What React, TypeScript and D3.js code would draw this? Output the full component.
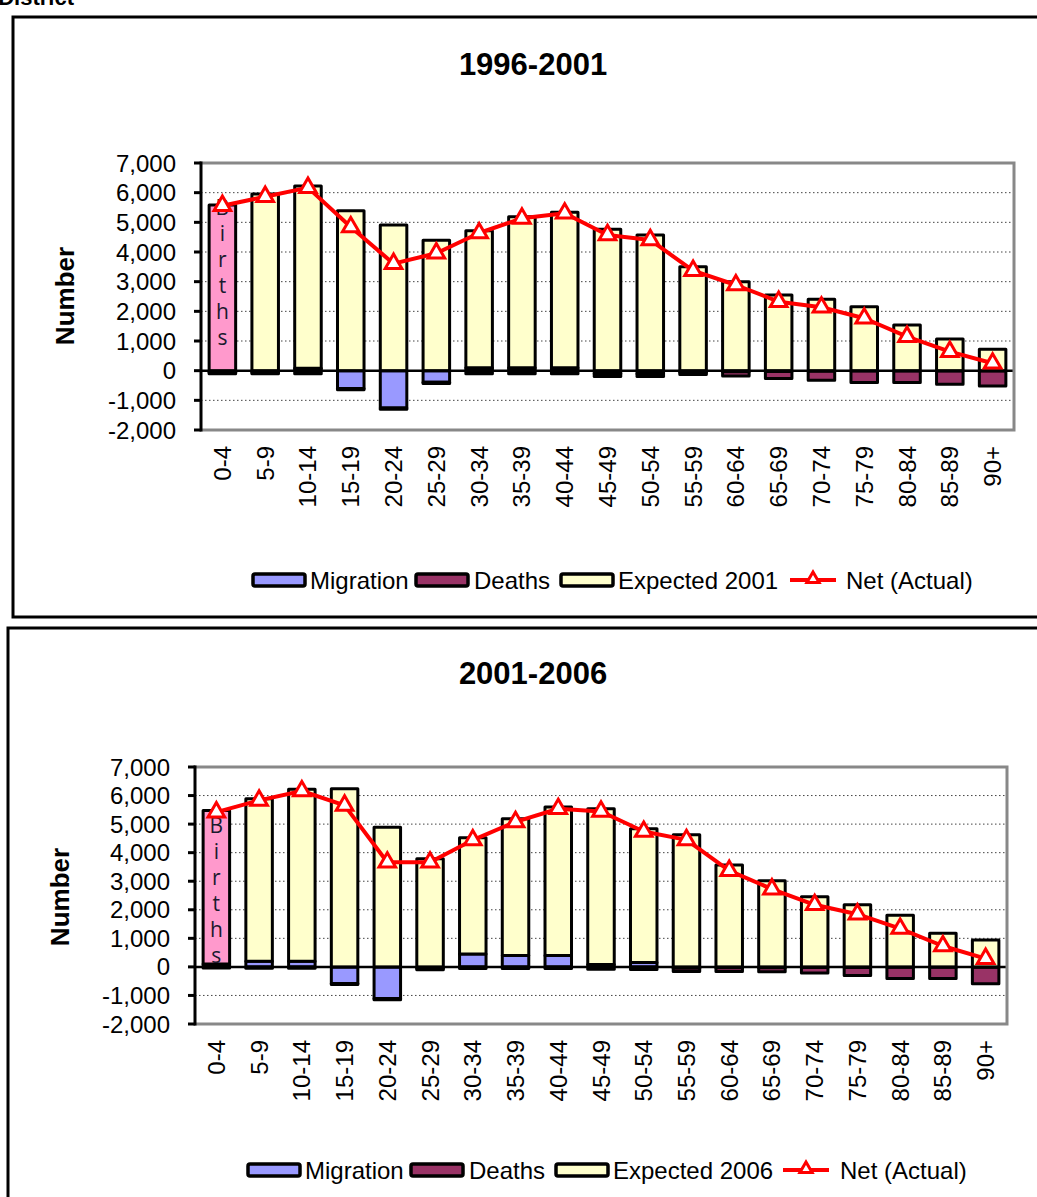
import React from 'react';
import * as d3 from 'd3';

const AGE_GROUPS = ['0-4', '5-9', '10-14', '15-19', '20-24', '25-29', '30-34', '35-39', '40-44', '45-49', '50-54', '55-59', '60-64', '65-69', '70-74', '75-79', '80-84', '85-89', '90+'];
const Y_TICKS = [-2000, -1000, 0, 1000, 2000, 3000, 4000, 5000, 6000, 7000];
const BIRTH_LETTERS = ['B', 'i', 'r', 't', 'h', 's'];

// 1996-2001
const MIGRATION_9601 = [-60, -60, 80, -600, -1260, -390, 100, 100, 100, -100, -100, -60, -40, -30, -20, -10, -10, -10, -10];
const DEATHS_9601 = [-40, -40, -100, -40, -40, -40, -100, -100, -100, -100, -100, -70, -140, -230, -300, -390, -390, -445, -510];
const EXPECTED_9601 = [5585, 5955, 6145, 5393, 4911, 4395, 4619, 5090, 5239, 4770, 4574, 3505, 3000, 2551, 2406, 2157, 1540, 1068, 721];
const NET_9601 = [5560, 5865, 6170, 4843, 3607, 3960, 4640, 5135, 5305, 4574, 4405, 3370, 2888, 2326, 2137, 1766, 1146, 640, 249];

// 2001-2006
const MIGRATION_0106 = [100, 200, 200, -580, -1110, -60, 450, 400, 400, 80, 150, -50, -30, -30, -20, -20, -10, -10, -10];
const DEATHS_0106 = [-40, -50, -50, -40, -40, -40, -60, -60, -60, -80, -90, -110, -130, -140, -190, -280, -400, -400, -580];
const EXPECTED_0106 = [5378, 5689, 6017, 6240, 4894, 3790, 4068, 4786, 5197, 5458, 4685, 4624, 3569, 3018, 2455, 2174, 1811, 1178, 942];
const NET_0106 = [5420, 5830, 6160, 5655, 3663, 3663, 4442, 5080, 5538, 5443, 4741, 4448, 3369, 2725, 2174, 1846, 1343, 731, 288];

const FONT = '"Liberation Sans", Arial, sans-serif';
const COLORS = { migration: '#9999FF', deaths: '#993366', expected: '#FFFFCC', births: '#FF99CC', net: '#FF0000' };

type Cfg = {
  title: string;
  expLabel: string;
  mig: number[];
  deaths: number[];
  exp: number[];
  net: number[];
  frame: { x: number; y: number; w: number; h: number };
  left: number; right: number; top: number; bottom: number;
  titleY: number;
  numberX: number; numberY: number;
  catLabelY: number;
  birthsY: number;
  legendY: number;
  legendX: { mig: number; deaths: number; exp: number; line: number; lineText: number };
};

const fmt = (t: number) => d3.format(',')(t).replace('\u2212', '-');

function Chart({ cfg }: { cfg: Cfg }) {
  const x = d3.scaleBand<string>().domain(AGE_GROUPS).range([cfg.left, cfg.right]).paddingInner(0.38).paddingOuter(0.19);
  const y = d3.scaleLinear().domain([-2000, 7000]).range([cfg.bottom, cfg.top]);
  const rows = AGE_GROUPS.map((g, i) => ({ age: g, migration: cfg.mig[i], deaths: cfg.deaths[i], expected: cfg.exp[i] }));
  const series = d3.stack<any>().keys(['migration', 'deaths', 'expected']).offset(d3.stackOffsetDiverging)(rows);
  const bw = x.bandwidth();
  const cx = (g: string) => (x(g) as number) + bw / 2;
  const line = d3.line<number>().x((_, i) => cx(AGE_GROUPS[i])).y((d) => y(d));
  const tri = d3.symbol().type(d3.symbolTriangle).size(120)() as string;
  const triSmall = d3.symbol().type(d3.symbolTriangle).size(65)() as string;
  const lx = cfg.legendX;
  const ly = cfg.legendY;

  return (
    <g>
      <rect x={cfg.frame.x} y={cfg.frame.y} width={cfg.frame.w} height={cfg.frame.h} fill="#fff" stroke="#000" strokeWidth={3} />
      <text x={533} y={cfg.titleY} textAnchor="middle" fontFamily={FONT} fontWeight="bold" fontSize={31}>{cfg.title}</text>
      <text transform={`translate(${cfg.numberX},${cfg.numberY}) rotate(-90)`} textAnchor="middle" dominantBaseline="central" fontFamily={FONT} fontWeight="bold" fontSize={26}>Number</text>

      {/* gridlines */}
      {Y_TICKS.filter((t) => t !== 0 && t !== 7000 && t !== -2000).map((t) => (
        <line key={t} x1={cfg.left} x2={cfg.right} y1={y(t)} y2={y(t)} stroke="#444" strokeWidth={1} strokeDasharray="1.5,2.5" />
      ))}

      {/* bars */}
      {series.map((s) => (
        <g key={s.key}>
          {s.map((d, i) => {
            const y0 = y(d[0]);
            const y1 = y(d[1]);
            const fill = s.key === 'expected' ? (i === 0 ? COLORS.births : COLORS.expected) : (COLORS as any)[s.key];
            return (
              <rect key={i} x={x(AGE_GROUPS[i])} y={Math.min(y0, y1)} width={bw} height={Math.abs(y1 - y0)} fill={fill} stroke="#000" strokeWidth={3} strokeLinejoin="round" />
            );
          })}
        </g>
      ))}

      {/* births letters */}
      {BIRTH_LETTERS.map((c, i) => (
        <text key={i} x={cx(AGE_GROUPS[0])} y={cfg.birthsY + i * 26} textAnchor="middle" dominantBaseline="central" fontFamily='"Open Sans", sans-serif' fontSize={21} fill="#1a1a2e">{c}</text>
      ))}

      {/* zero line */}
      <line x1={cfg.left} x2={cfg.right} y1={y(0)} y2={y(0)} stroke="#000" strokeWidth={2.5} />

      {/* plot border */}
      <path d={`M${cfg.left},${cfg.top}H${cfg.right}V${cfg.bottom}H${cfg.left}`} fill="none" stroke="#888" strokeWidth={3} />

      {/* y axis */}
      <line x1={cfg.left} x2={cfg.left} y1={cfg.top - 1.5} y2={cfg.bottom + 1.5} stroke="#000" strokeWidth={3} />
      {Y_TICKS.map((t) => (
        <g key={t}>
          <line x1={cfg.left - 7} x2={cfg.left} y1={y(t)} y2={y(t)} stroke="#000" strokeWidth={3} />
          <text x={cfg.left - 25} y={y(t)} textAnchor="end" dominantBaseline="central" fontFamily={FONT} fontSize={24}>{fmt(t)}</text>
        </g>
      ))}

      {/* category labels */}
      {AGE_GROUPS.map((g) => (
        <text key={g} transform={`translate(${cx(g)},${cfg.catLabelY}) rotate(-90)`} textAnchor="end" dominantBaseline="central" fontFamily={FONT} fontSize={24}>{g}</text>
      ))}

      {/* net line */}
      <path d={line(cfg.net) as string} fill="none" stroke={COLORS.net} strokeWidth={4} strokeLinejoin="round" />
      {cfg.net.map((v, i) => (
        <path key={i} d={tri} transform={`translate(${cx(AGE_GROUPS[i])},${y(v)})`} fill="#fff" stroke={COLORS.net} strokeWidth={3} />
      ))}

      {/* legend */}
      <rect x={lx.mig} y={ly - 6} width={52} height={12} rx={2} fill={COLORS.migration} stroke="#000" strokeWidth={3.5} />
      <text x={lx.mig + 57} y={ly} dominantBaseline="central" fontFamily={FONT} fontSize={24}>Migration</text>
      <rect x={lx.deaths} y={ly - 6} width={52} height={12} rx={2} fill={COLORS.deaths} stroke="#000" strokeWidth={3.5} />
      <text x={lx.deaths + 58} y={ly} dominantBaseline="central" fontFamily={FONT} fontSize={24}>Deaths</text>
      <rect x={lx.exp} y={ly - 6} width={52} height={12} rx={2} fill={COLORS.expected} stroke="#000" strokeWidth={3.5} />
      <text x={lx.exp + 57} y={ly} dominantBaseline="central" fontFamily={FONT} fontSize={24}>{cfg.expLabel}</text>
      <line x1={lx.line} x2={lx.line + 46} y1={ly} y2={ly} stroke={COLORS.net} strokeWidth={4} />
      <path d={triSmall} transform={`translate(${lx.line + 23},${ly - 1})`} fill="#fff" stroke={COLORS.net} strokeWidth={3} />
      <text x={lx.lineText} y={ly} dominantBaseline="central" fontFamily={FONT} fontSize={24}>Net (Actual)</text>
    </g>
  );
}

const TOP_CFG: Cfg = {
  title: '1996-2001', expLabel: 'Expected 2001',
  mig: MIGRATION_9601, deaths: DEATHS_9601, exp: EXPECTED_9601, net: NET_9601,
  frame: { x: 13, y: 17, w: 1040, h: 600 },
  left: 201, right: 1014, top: 163, bottom: 430,
  titleY: 75, numberX: 65, numberY: 296, catLabelY: 446, birthsY: 207,
  legendY: 580,
  legendX: { mig: 253, deaths: 416, exp: 561, line: 790, lineText: 846 },
};

const BOTTOM_CFG: Cfg = {
  title: '2001-2006', expLabel: 'Expected 2006',
  mig: MIGRATION_0106, deaths: DEATHS_0106, exp: EXPECTED_0106, net: NET_0106,
  frame: { x: 8, y: 628, w: 1045, h: 600 },
  left: 195, right: 1007, top: 767, bottom: 1024,
  titleY: 684, numberX: 60, numberY: 897, catLabelY: 1040, birthsY: 825,
  legendY: 1170,
  legendX: { mig: 248, deaths: 411, exp: 556, line: 783, lineText: 840 },
};

export default function App() {
  return (
    <svg width={1037} height={1197} viewBox="0 0 1037 1197" style={{ position: 'absolute', left: 0, top: 0, display: 'block', background: '#fff' }}>
      <rect x={0} y={0} width={1037} height={1197} fill="#fff" />
      <text x={74} y={5} textAnchor="end" fontFamily={FONT} fontWeight="bold" fontSize={22}>District</text>
      <Chart cfg={TOP_CFG} />
      <Chart cfg={BOTTOM_CFG} />
    </svg>
  );
}
